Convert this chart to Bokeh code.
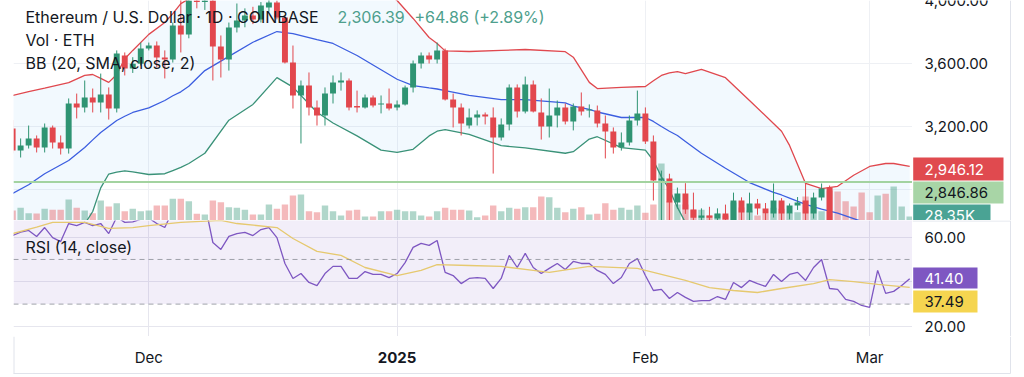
import pandas as pd
from bokeh.plotting import figure
from bokeh.layouts import column, row
from bokeh.models import Range1d, FixedTicker, Label, Span, BoxAnnotation
from bokeh.core.properties import value
from bokeh.embed import file_html
from bokeh.resources import INLINE

# ---------------- data ----------------
start_date = "2024-11-14"
end_date = "2025-03-06"

opens = [3187, 3047, 3079, 3124, 3066, 3194, 3098, 3060, 3346, 3321, 3384, 3352, 3403, 3314, 3651, 3568, 3598,
         3695, 3714, 3638, 3625, 3841, 3784, 4000, 3990, 4005, 3708, 3625, 3829, 3873, 3905, 3880, 3956, 3987,
         3892, 3606, 3397, 3460, 3321, 3270, 3409, 3479, 3492, 3330, 3321, 3384, 3340, 3346, 3321, 3340, 3448,
         3600, 3651, 3625, 3683, 3371, 3321, 3206, 3257, 3276, 3257, 3130, 3213, 3448, 3295, 3467, 3289, 3200,
         3270, 3321, 3232, 3327, 3302, 3302, 3219, 3168, 3066, 3098, 3238, 3283, 3105, 2857, 2870, 2717, 2775,
         2673, 2620, 2635, 2616, 2648, 2603, 2730, 2654, 2711, 2679, 2648, 2730, 2648, 2698, 2730, 2648, 2749,
         2812, 2514, 2489, 2335, 2305, 2237, 2218, 2518, 2150, 2170, 2241]
highs = [3240, 3124, 3206, 3143, 3219, 3206, 3143, 3378, 3409, 3492, 3441, 3536, 3448, 3683, 3670, 3640, 3733,
         3733, 3740, 3683, 3860, 4050, 4050, 4080, 4070, 4060, 3778, 3860, 3981, 3950, 3960, 3990, 4100, 4000,
         3900, 3714, 3492, 3543, 3365, 3448, 3524, 3543, 3505, 3428, 3403, 3397, 3397, 3441, 3365, 3460, 3619,
         3670, 3670, 3733, 3695, 3409, 3346, 3314, 3302, 3289, 3321, 3251, 3467, 3467, 3517, 3492, 3378, 3441,
         3365, 3346, 3346, 3416, 3340, 3333, 3270, 3194, 3162, 3270, 3428, 3321, 3143, 2920, 2900, 2812, 2840,
         2780, 2680, 2690, 2680, 2704, 2780, 2750, 2780, 2740, 2714, 2838, 2745, 2711, 2752, 2838, 2780, 2838,
         2825, 2560, 2520, 2370, 2330, 2270, 2550, 2525, 2220, 2280, 2330]
lows = [3030, 3003, 3060, 3035, 3035, 3060, 3022, 3028, 3251, 3289, 3289, 3289, 3244, 3289, 3524, 3540, 3587,
        3683, 3575, 3505, 3606, 3670, 3760, 3950, 3940, 3492, 3511, 3555, 3797, 3830, 3850, 3860, 3930, 3880,
        3600, 3314, 3092, 3270, 3206, 3206, 3346, 3428, 3302, 3289, 3314, 3321, 3283, 3302, 3302, 3333, 3416,
        3568, 3600, 3600, 3365, 3194, 3143, 3187, 3206, 3213, 2901, 3111, 3175, 3257, 3283, 3289, 3117, 3130,
        3194, 3213, 3175, 3270, 3257, 3194, 2997, 3028, 3047, 3079, 3206, 3089, 2730, 2150, 2590, 2679, 2645,
        2560, 2580, 2590, 2590, 2580, 2590, 2590, 2600, 2640, 2590, 2622, 2590, 2610, 2670, 2590, 2615, 2730,
        2480, 2310, 2250, 2230, 2080, 2140, 2170, 2100, 1990, 2150, 2200]
closes = [3047, 3079, 3124, 3066, 3194, 3098, 3060, 3346, 3321, 3384, 3352, 3403, 3314, 3663, 3568, 3598, 3695,
          3714, 3638, 3625, 3841, 3784, 4000, 3990, 4005, 3708, 3625, 3829, 3873, 3905, 3880, 3968, 3987, 3892,
          3606, 3397, 3460, 3321, 3270, 3409, 3479, 3492, 3321, 3321, 3384, 3333, 3346, 3314, 3340, 3448, 3600,
          3651, 3625, 3683, 3371, 3321, 3219, 3257, 3276, 3264, 3130, 3213, 3448, 3295, 3467, 3295, 3200, 3270,
          3321, 3232, 3327, 3295, 3308, 3219, 3168, 3066, 3098, 3238, 3283, 3105, 2857, 2870, 2717, 2775, 2673,
          2620, 2635, 2620, 2648, 2610, 2730, 2654, 2711, 2679, 2648, 2730, 2648, 2698, 2717, 2648, 2749, 2806,
          2514, 2489, 2335, 2305, 2237, 2218, 2518, 2150, 2170, 2241, 2306.39]
volumes_k = [71, 90, 52, 50, 83, 76, 76, 149, 90, 71, 52, 142, 99, 123, 66, 83, 66, 71, 106, 106, 154, 154,
             137, 48, 43, 142, 130, 94, 90, 76, 43, 43, 113, 83, 113, 177, 184, 66, 59, 106, 66, 35, 71, 76, 28,
             28, 66, 66, 76, 66, 66, 35, 28, 66, 90, 76, 76, 71, 23, 35, 106, 66, 90, 83, 94, 94, 170, 165, 90,
             59, 83, 94, 43, 48, 123, 76, 90, 76, 106, 55, 113, 404, 137, 113, 113, 76, 76, 35, 48, 35, 128, 92,
             71, 35, 48, 90, 83, 52, 59, 170, 113, 66, 213, 206, 137, 99, 199, 59, 177, 189, 241, 99, 28.35]

bb_dates = ["2024-11-14", "2024-11-16", "2024-11-18", "2024-11-21", "2024-11-23", "2024-11-24", "2024-11-25",
            "2024-11-26", "2024-11-27", "2024-11-28", "2024-11-29", "2024-12-01", "2024-12-03", "2024-12-04",
            "2024-12-05", "2024-12-06", "2024-12-08", "2024-12-11", "2024-12-14", "2024-12-17", "2024-12-19",
            "2024-12-22", "2024-12-24", "2024-12-27", "2024-12-30", "2025-01-01", "2025-01-03", "2025-01-05",
            "2025-01-06", "2025-01-07", "2025-01-10", "2025-01-14", "2025-01-17", "2025-01-22", "2025-01-23",
            "2025-01-25", "2025-01-26", "2025-01-29", "2025-02-01", "2025-02-02", "2025-02-03", "2025-02-04",
            "2025-02-05", "2025-02-06", "2025-02-08", "2025-02-11", "2025-02-14", "2025-02-17", "2025-02-18",
            "2025-02-19", "2025-02-21", "2025-02-23", "2025-02-25", "2025-02-27", "2025-03-01", "2025-03-03",
            "2025-03-04", "2025-03-06"]
bb_upper = [3397, 3422, 3444, 3479, 3524, 3530, 3505, 3480, 3530, 3630, 3683, 3785, 3860, 3917, 3980, 4010,
            4090, 4070, 4110, 4100, 4140, 4220, 4235, 4170, 4070, 4000, 3886, 3765, 3727, 3680, 3676, 3683,
            3689, 3675, 3640, 3480, 3441, 3448, 3454, 3490, 3524, 3540, 3549, 3536, 3562, 3510, 3365, 3219,
            3170, 3080, 2838, 2806, 2820, 2890, 2946, 2965, 2965, 2946.12]
bb_basis = [2774, 2830, 2900, 2984, 3067, 3115, 3162, 3200, 3238, 3265, 3289, 3318, 3365, 3395, 3420, 3455,
            3555, 3645, 3735, 3803, 3790, 3752, 3727, 3651, 3560, 3500, 3460, 3445, 3438, 3428, 3397, 3371,
            3371, 3350, 3330, 3308, 3292, 3257, 3257, 3232, 3200, 3170, 3143, 3105, 3030, 2935, 2844, 2781,
            2765, 2745, 2705, 2675, 2650, 2615, 2580, 2540, 2520, 2480]
bb_lower = [2150, 2240, 2356, 2489, 2580, 2660, 2810, 2898, 2910, 2918, 2912, 2895, 2900, 2920, 2940, 2965,
            3030, 3240, 3340, 3510, 3450, 3290, 3222, 3140, 3050, 3036, 3055, 3140, 3170, 3180, 3150, 3078,
            3064, 3030, 3040, 3120, 3135, 3066, 3050, 2984, 2880, 2800, 2686, 2590, 2500, 2360, 2320, 2340,
            2360, 2410, 2570, 2545, 2480, 2340, 2210, 2115, 2075, 2015]

rsi = [60.7, 62.2, 63.0, 60.3, 64.3, 59.8, 58.0, 66.1, 65.2, 66.6, 65.2, 66.1, 61.6, 69.0, 66.6, 66.8, 68.0,
       68.5, 66.1, 64.3, 72.0, 69.0, 75.0, 74.0, 75.0, 57.6, 54.5, 60.3, 61.6, 62.1, 60.7, 63.4, 64.3, 59.8,
       48.2, 41.5, 43.7, 39.7, 38.3, 43.7, 46.9, 46.9, 41.5, 41.5, 44.6, 43.3, 43.3, 41.9, 43.7, 48.6, 55.4,
       57.2, 56.3, 58.5, 44.2, 42.8, 39.2, 41.5, 41.9, 41.5, 37.0, 41.5, 51.8, 46.4, 52.7, 46.4, 43.7, 46.0,
       48.2, 45.5, 49.1, 48.2, 48.2, 45.1, 43.3, 39.2, 41.9, 48.2, 50.4, 42.8, 36.1, 36.6, 32.5, 35.2, 33.0,
       31.2, 31.6, 31.6, 33.4, 32.1, 39.7, 37.4, 40.6, 39.2, 37.9, 43.3, 40.1, 43.3, 44.2, 40.6, 46.4, 50.0,
       37.0, 36.6, 32.1, 31.2, 29.4, 28.5, 45.1, 34.8, 35.7, 38.3, 41.40]
rsi_ma_dates = ["2024-11-14", "2024-11-17", "2024-11-19", "2024-11-23", "2024-11-26", "2024-11-29",
                "2024-12-01", "2024-12-05", "2024-12-10", "2024-12-12", "2024-12-17", "2024-12-19",
                "2024-12-22", "2024-12-25", "2024-12-28", "2025-01-01", "2025-01-04", "2025-01-06",
                "2025-01-10", "2025-01-14", "2025-01-18", "2025-01-20", "2025-01-25", "2025-01-31",
                "2025-02-02", "2025-02-06", "2025-02-09", "2025-02-12", "2025-02-15", "2025-02-18",
                "2025-02-22", "2025-02-24", "2025-02-27", "2025-03-02", "2025-03-06"]
rsi_ma = [61.6, 64.5, 66.6, 66.6, 63.9, 64.3, 65.2, 66.6, 67.5, 66.1, 64.3, 59.4, 53.6, 51.8, 46.4, 42.8,
          45.1, 47.7, 47.3, 46.9, 45.1, 44.2, 46.9, 46.0, 44.2, 40.6, 37.4, 36.1, 35.2, 37.0, 39.2, 41.0,
          40.1, 38.8, 37.49]

hline_level = 2846.86
month_ticks = ["2024-12-01", "2025-01-01", "2025-02-01", "2025-03-01"]
month_labels = ["Dec", "2025", "Feb", "Mar"]
price_ticks = [2800, 3200, 3600, 4000]
price_tick_labels = ["2,800.00", "3,200.00", "3,600.00", "4,000.00"]
rsi_ticks = [20, 40, 60]
rsi_tick_labels = ["20.00", "40.00", "60.00"]
title_text = "Ethereum / U.S. Dollar \u00b7 1D \u00b7 COINBASE"
last_text = "2,306.39"
change_text = "+64.86 (+2.89%)"
price_marks = ["2,946.12", "2,846.86", "28.35K"]
rsi_marks = ["41.40", "37.49"]

# ---------------- helpers ----------------
t0 = pd.Timestamp(start_date)
def day(d):
    return (pd.Timestamp(d) - t0).days

dates = pd.date_range(start_date, end_date, freq="D")
xs = [(d - t0).days for d in dates]

FONT = "Inter"
TXT = "#131722"
UP, DN = "#2f9473", "#e2474d"
BORDER = "#e0e3eb"

# pixel geometry
FL, FR = 13, 912
X0, X1 = 0.11, 112.35
P_TOP, P_BOT = 4000, 2603
P_H = 220
R_TOP, R_BOT = 67.45, 15.5
R_H = 116
B_H = 377 - P_H - R_H

def sx(px):
    return X0 + (px - FL) * (X1 - X0) / (FR - FL)
def py(pyy):
    return P_TOP - pyy * (P_TOP - P_BOT) / P_H
def ry(pyy):
    return R_TOP - (pyy - P_H) * (R_TOP - R_BOT) / R_H
def by(pyy):
    return 377 - pyy

xr = Range1d(X0, X1)
mticks = [day(d) for d in month_ticks]

def base_fig(w, h, xrange, yrange):
    f = figure(width=w, height=h, x_range=xrange, y_range=yrange, output_backend="svg",
               toolbar_location=None, x_axis_location=None, y_axis_location=None,
               min_border=0, min_border_left=0, min_border_right=0, min_border_top=0,
               min_border_bottom=0, outline_line_color=None)
    f.background_fill_color = "white"
    return f

def lbl(fig, x, y, text, color=TXT, size="16px", style="normal"):
    fig.add_layout(Label(x=x, y=y, text=text, text_color=color, text_font=FONT,
                         text_font_size=size, text_font_style=style,
                         text_baseline="middle", text_align="left"))

def txt(fig, x, y, texts, color=TXT, size="15px", style="normal", align="left"):
    fig.text(x=x, y=y, text=texts, text_color=color, text_font=value(FONT),
             text_font_size=value(size), text_font_style=style,
             text_baseline="middle", text_align=align)

# ---------------- price pane ----------------
p1 = figure(width=FR, height=P_H, x_range=xr, y_range=Range1d(P_BOT, P_TOP),
            output_backend="svg", toolbar_location=None, x_axis_location=None,
            y_axis_location=None, min_border_left=FL, min_border_right=0,
            min_border_top=0, min_border_bottom=0, outline_line_color=None)
p1.ygrid.ticker = FixedTicker(ticks=price_ticks)
p1.xgrid.ticker = FixedTicker(ticks=mticks)
p1.grid.grid_line_color = "#eef0f4"
p1.extra_y_ranges = {"vol": Range1d(0, 1560)}

bbx = [day(d) for d in bb_dates]
p1.varea(x=bbx, y1=bb_lower, y2=bb_upper, fill_color="#2196f3", fill_alpha=0.06)

up_idx = [i for i in range(len(xs)) if closes[i] >= opens[i]]
dn_idx = [i for i in range(len(xs)) if closes[i] < opens[i]]
def sub(arr, idx):
    return [arr[i] for i in idx]

for idx, col in ((up_idx, UP), (dn_idx, DN)):
    p1.vbar(x=sub(xs, idx), top=sub(volumes_k, idx), bottom=0, width=0.8, y_range_name="vol",
            fill_color=col, fill_alpha=0.38, line_color=None)

p1.line(bbx, bb_upper, line_color="#e0484e", line_width=1.3)
p1.line(bbx, bb_basis, line_color="#3c5ee0", line_width=1.3)
p1.line(bbx, bb_lower, line_color="#3a9278", line_width=1.3)

for idx, col in ((up_idx, UP), (dn_idx, DN)):
    p1.segment(x0=sub(xs, idx), y0=sub(lows, idx), x1=sub(xs, idx), y1=sub(highs, idx),
               line_color=col, line_width=1)
    bt = [max(opens[i], closes[i]) for i in idx]
    bb = [min(opens[i], closes[i]) for i in idx]
    bb = [b if t - b > 4 else t - 4 for t, b in zip(bt, bb)]
    p1.vbar(x=sub(xs, idx), top=bt, bottom=bb, width=0.74, fill_color=col, line_color=None)

p1.add_layout(Span(location=hline_level, dimension="width", line_color="#a3d3a0", line_width=2))

lbl(p1, sx(25), py(16), title_text)
lbl(p1, sx(337), py(16), last_text, color="#4e9f8d")
lbl(p1, sx(414), py(16), change_text, color="#4e9f8d")
lbl(p1, sx(25), py(39), "Vol \u00b7 ETH")
lbl(p1, sx(25), py(62), "BB (20, SMA, close, 2)")

# price scale (right)
a1 = base_fig(1024 - FR, P_H, Range1d(0, 1024 - FR), p1.y_range)
a1.grid.visible = False
txt(a1, [12] * len(price_ticks), price_ticks, price_tick_labels)
mark_fill = ["#e04a4f", "#a8d5a6", "#4aa394"]
mark_txt = ["white", TXT, "white"]
mark_y = [(157, 180), (181, 203), (204, 226)]
mark_r = [91, 91, 78]
a1.quad(left=[0.7] * 3, right=mark_r, top=[py(a) for a, b in mark_y],
        bottom=[py(b) for a, b in mark_y], fill_color=mark_fill, line_color=None)
for t, c, (a, b) in zip(price_marks, mark_txt, mark_y):
    txt(a1, [12], [py((a + b) / 2)], [t], color=c)
a1.segment(x0=[98], x1=[98], y0=[py(0)], y1=[py(P_H)], line_color=BORDER, line_width=1)

# ---------------- RSI pane ----------------
p2 = figure(width=FR, height=R_H, x_range=xr, y_range=Range1d(R_BOT, R_TOP),
            output_backend="svg", toolbar_location=None, x_axis_location=None,
            y_axis_location=None, min_border_left=FL, min_border_right=0,
            min_border_top=0, min_border_bottom=0, outline_line_color=None)
p2.add_layout(BoxAnnotation(bottom=30, top=70, fill_color="#7e57c2", fill_alpha=0.1, line_color=None))
p2.ygrid.ticker = FixedTicker(ticks=rsi_ticks)
p2.xgrid.ticker = FixedTicker(ticks=mticks)
p2.grid.grid_line_color = "#e6e6ee"
for lv in (50, 30):
    p2.add_layout(Span(location=lv, dimension="width", line_color="#8a8d96", line_width=1,
                       line_dash="5 4", line_alpha=0.8))
p2.line(xs, rsi, line_color="#7e57c2", line_width=1.3)
p2.line([day(d) for d in rsi_ma_dates], rsi_ma, line_color="#f2d666", line_width=1.3)
lbl(p2, sx(25), ry(246), "RSI (14, close)")

a2 = base_fig(1024 - FR, R_H, Range1d(0, 1024 - FR), p2.y_range)
a2.grid.visible = False
txt(a2, [12] * len(rsi_ticks), rsi_ticks, rsi_tick_labels)
r_fill = ["#7e57c2", "#f5d550"]
r_txt = ["white", TXT]
r_y = [(267, 288), (290, 312)]
a2.quad(left=[0.7] * 2, right=[65, 65], top=[ry(a) for a, b in r_y],
        bottom=[ry(b) for a, b in r_y], fill_color=r_fill, line_color=None)
for t, c, (a, b) in zip(rsi_marks, r_txt, r_y):
    txt(a2, [12], [ry((a + b) / 2)], [t], color=c)
a2.segment(x0=[0], x1=[98], y0=[ry(220.5)], y1=[ry(220.5)], line_color=BORDER, line_width=1)
a2.segment(x0=[98], x1=[98], y0=[ry(220)], y1=[ry(336)], line_color=BORDER, line_width=1)

# ---------------- time scale ----------------
b = base_fig(1024, B_H, Range1d(sx(0), sx(1024)), Range1d(0, B_H))
b.grid.visible = False
for t, l in zip(mticks, month_labels):
    txt(b, [t], [by(356.5)], [l], size="15px",
        style="bold" if l == "2025" else "normal", align="center")
b.segment(x0=[sx(13)], x1=[sx(1010)], y0=[by(373)], y1=[by(373)], line_color=BORDER, line_width=1)
b.segment(x0=[sx(1010)], x1=[sx(1010)], y0=[by(373)], y1=[B_H], line_color=BORDER, line_width=1)
b.segment(x0=[sx(13.5)], x1=[sx(13.5)], y0=[by(373)], y1=[B_H], line_color=BORDER, line_width=1)

layout = column(row(p1, a1, spacing=0), row(p2, a2, spacing=0), b, spacing=0)
open("out.html", "w").write(file_html(layout, INLINE))
